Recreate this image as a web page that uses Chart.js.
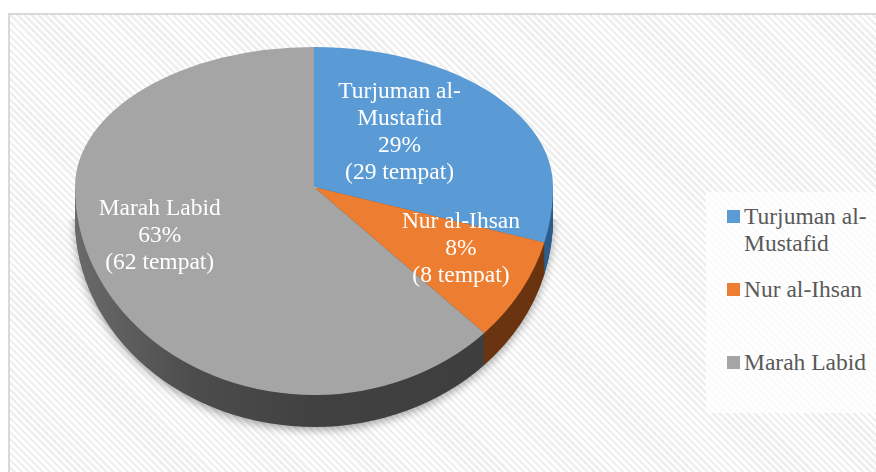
<!DOCTYPE html>
<html>
<head>
<meta charset="utf-8">
<script src="https://cdn.jsdelivr.net/npm/chart.js@4.4.1/dist/chart.umd.min.js"></script>
<style>
  body { margin: 0; background: #fff; }
  #wrap { position: relative; width: 876px; height: 472px; overflow: hidden; }
  #frame {
    position: absolute; left: 8px; top: 13px; width: 900px; height: 500px;
    border: 2px solid #d9d9d9;
    background: repeating-linear-gradient(45deg, #ffffff 0px, #ffffff 2.5px, #efefef 2.5px, #efefef 5px);
  }
  #legendBox {
    position: absolute; left: 706px; top: 192px; width: 180px; height: 221px;
    background: rgba(255, 255, 255, 0.75);
  }
  #legend {
    position: absolute; left: 727px; top: 203px;
    font-family: "Liberation Serif", "Times New Roman", serif; font-size: 23.5px; color: #595959;
  }
  .item { position: relative; height: 73px; line-height: 27px; padding-left: 17px; }
  .swatch { position: absolute; left: 0; top: 7px; width: 13px; height: 13px; }
  canvas { position: absolute; left: 0; top: 0; }
</style>
</head>
<body>
<div id="wrap">
  <div id="frame"></div>
  <div id="legendBox"></div>
  <div id="legend"></div>
  <canvas id="pieChart" width="876" height="472"></canvas>
</div>
<script>
const categories = ["Turjuman al-Mustafid", "Nur al-Ihsan", "Marah Labid"];
const placeCounts = [29, 8, 62];
const sliceColors = ["#5b9bd5", "#ed7d31", "#a5a5a5"];
const sideColors = ["#2f5f8c", "#6b3410", null]; // gray side uses a gradient

// ellipse shape of the tilted pie (screen px)
const RX = 239, RY_TOP = 140, RY_BOTTOM = 208, DEPTH = 32;
// where the data labels sit inside each slice, as a fraction of the radius (x, y)
const LABEL_FX = [0.45, 0.71, 0.7];
const LABEL_FY = [0.65, 0.59, 0.61];
const LABEL_FONT = '23.5px "Liberation Serif", "Times New Roman", serif';

const total = placeCounts.reduce((a, b) => a + b, 0);

// html legend
const legendEl = document.getElementById("legend");
categories.forEach((name, i) => {
  const item = document.createElement("div");
  item.className = "item";
  const sw = document.createElement("span");
  sw.className = "swatch";
  sw.style.background = sliceColors[i];
  item.appendChild(sw);
  const txt = document.createElement("div");
  txt.textContent = name;
  txt.style.width = "130px";
  item.appendChild(txt);
  legendEl.appendChild(item);
});

function wrapText(ctx, text, maxWidth) {
  const parts = text.split(/(?<=[ -])/);
  const lines = [];
  let line = "";
  parts.forEach((p) => {
    const test = line + p;
    if (line && ctx.measureText(test.trim()).width > maxWidth) {
      lines.push(line.trim());
      line = p;
    } else {
      line = test;
    }
  });
  if (line) lines.push(line.trim());
  return lines;
}

const tiltPlugin = {
  id: "tilt",
  beforeDatasetsDraw(chart) {
    const ctx = chart.ctx;
    const arcs = chart.getDatasetMeta(0).data;
    const cx = arcs[0].x, cy = arcs[0].y, R = arcs[0].outerRadius;
    const sx = RX / R;

    function half(top, dy, fn) {
      ctx.save();
      ctx.beginPath();
      if (top) ctx.rect(0, 0, chart.width, cy + dy);
      else ctx.rect(0, cy + dy, chart.width, chart.height);
      ctx.clip();
      ctx.translate(cx, cy + dy);
      ctx.scale(sx, top ? RY_TOP / R : RY_BOTTOM / R);
      ctx.translate(-cx, -cy);
      fn();
      ctx.restore();
    }

    function sidePaths() {
      const grad = ctx.createLinearGradient(cx - R, 0, cx + R, 0);
      grad.addColorStop(0, "#6a6a6a");
      grad.addColorStop(0.25, "#4c4c4c");
      grad.addColorStop(0.5, "#414141");
      grad.addColorStop(1, "#3d3d3d");
      arcs.forEach((a, i) => {
        ctx.beginPath();
        ctx.moveTo(a.x, a.y);
        ctx.arc(a.x, a.y, a.outerRadius, a.startAngle, a.endAngle);
        ctx.closePath();
        ctx.fillStyle = sideColors[i] || grad;
        ctx.fill();
      });
    }

    // shadow under the disk
    half(false, DEPTH, () => {
      ctx.shadowColor = "rgba(0,0,0,0.35)";
      ctx.shadowBlur = 9;
      ctx.shadowOffsetY = 3;
      sidePaths();
    });
    for (let dy = DEPTH - 1; dy >= 1; dy--) {
      half(false, dy, sidePaths);
    }
    // top face
    half(true, 0, () => arcs.forEach((a) => a.draw(ctx)));
    half(false, 0, () => arcs.forEach((a) => a.draw(ctx)));
    return false;
  },
  afterDraw(chart) {
    const ctx = chart.ctx;
    const arcs = chart.getDatasetMeta(0).data;
    ctx.save();
    ctx.font = LABEL_FONT;
    ctx.fillStyle = "#ffffff";
    ctx.textAlign = "center";
    ctx.textBaseline = "middle";
    arcs.forEach((a, i) => {
      const mid = (a.startAngle + a.endAngle) / 2;
      const u = Math.cos(mid) * LABEL_FX[i];
      const v = Math.sin(mid) * LABEL_FY[i];
      const x = a.x + u * RX;
      const y = a.y + v * (v < 0 ? RY_TOP : RY_BOTTOM);
      const pct = Math.round((placeCounts[i] / total) * 100) + "%";
      const lines = wrapText(ctx, categories[i], 150).concat([pct, "(" + placeCounts[i] + " tempat)"]);
      const lh = 27;
      const y0 = y - ((lines.length - 1) * lh) / 2;
      lines.forEach((t, k) => ctx.fillText(t, x, y0 + k * lh));
    });
    ctx.restore();
  },
};

new Chart(document.getElementById("pieChart"), {
  type: "pie",
  data: {
    labels: categories,
    datasets: [
      {
        data: placeCounts,
        backgroundColor: sliceColors,
        borderWidth: 0,
      },
    ],
  },
  options: {
    responsive: false,
    animation: false,
    devicePixelRatio: 1,
    layout: { padding: { left: 164, right: 412, top: 37, bottom: 135 } },
    plugins: {
      legend: { display: false },
      tooltip: { enabled: false },
    },
  },
  plugins: [tiltPlugin],
});
</script>
</body>
</html>
